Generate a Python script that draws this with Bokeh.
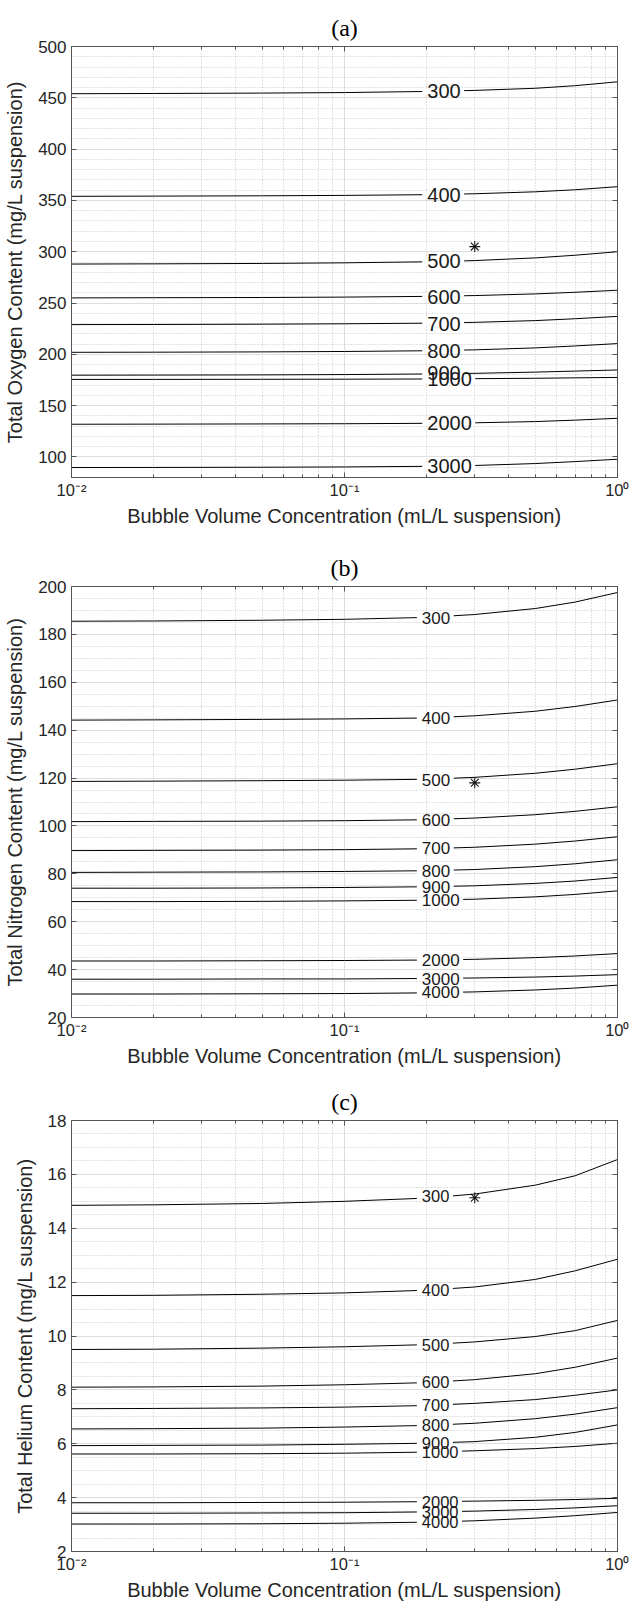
import numpy as np
from bokeh.plotting import figure
from bokeh.models import FixedTicker, LogAxis, LinearAxis
from bokeh.layouts import column
from bokeh.embed import file_html
from bokeh.resources import INLINE
from bokeh.core.properties import value

# ---------------- data ----------------
bubble_conc = [0.01, 0.02, 0.05, 0.1, 0.2, 0.3, 0.5, 0.7, 1.0]
x_ticks = [0.01, 0.1, 1.0]
x_tick_labels = ["10\u207b\u00b2", "10\u207b\u00b9", "10\u2070"]
x_label = "Bubble Volume Concentration (mL/L suspension)"

# (a) oxygen
oxy_levels = ["300", "400", "500", "600", "700", "800", "900", "1000", "2000", "3000"]
oxy_curves = [
    [454.0, 454.2, 454.6, 455.1, 456.2, 457.2, 459.3, 461.8, 465.6],
    [354.0, 354.2, 354.5, 354.9, 355.6, 356.5, 358.4, 360.4, 363.4],
    [288.0, 288.2, 288.6, 289.2, 290.2, 291.4, 294.0, 296.6, 300.0],
    [255.0, 255.2, 255.4, 255.8, 256.5, 257.3, 258.9, 260.5, 262.5],
    [229.0, 229.1, 229.4, 229.8, 230.4, 231.2, 232.9, 234.7, 237.0],
    [202.0, 202.1, 202.4, 202.8, 203.5, 204.4, 206.3, 208.2, 210.5],
    [179.7, 179.8, 180.0, 180.3, 180.9, 181.5, 182.7, 183.7, 184.8],
    [175.6, 175.6, 175.7, 175.8, 176.0, 176.3, 176.7, 177.1, 177.5],
    [131.9, 132.0, 132.2, 132.4, 132.8, 133.3, 134.5, 135.9, 137.7],
    [89.7, 89.8, 90.0, 90.3, 90.9, 91.7, 93.6, 95.5, 97.8],
]
oxy_label_y = [456.5, 355.5, 290.5, 256.3, 230.0, 203.4, 182.3, 175.5, 133.0, 91.5]
oxy_star_x = [0.3]
oxy_star_y = [305.0]
oxy_yticks = [100, 150, 200, 250, 300, 350, 400, 450, 500]

# (b) nitrogen
nit_levels = ["300", "400", "500", "600", "700", "800", "900", "1000", "2000", "3000", "4000"]
nit_curves = [
    [185.5, 185.6, 185.9, 186.3, 187.1, 188.3, 190.8, 193.5, 197.5],
    [144.2, 144.3, 144.5, 144.7, 145.1, 146.0, 147.9, 149.9, 152.6],
    [118.6, 118.7, 118.9, 119.1, 119.5, 120.3, 122.0, 123.7, 126.0],
    [101.8, 101.9, 102.0, 102.2, 102.6, 103.3, 104.7, 106.1, 108.0],
    [89.7, 89.8, 89.9, 90.1, 90.5, 91.1, 92.4, 93.7, 95.5],
    [80.6, 80.7, 80.8, 81.0, 81.3, 81.8, 83.0, 84.2, 85.9],
    [74.0, 74.0, 74.1, 74.3, 74.6, 75.0, 76.0, 77.0, 78.5],
    [68.4, 68.4, 68.5, 68.7, 69.0, 69.4, 70.4, 71.4, 72.9],
    [43.6, 43.6, 43.7, 43.8, 44.0, 44.3, 45.0, 45.7, 46.7],
    [36.0, 36.0, 36.1, 36.1, 36.3, 36.5, 36.9, 37.3, 37.9],
    [29.8, 29.8, 29.9, 30.0, 30.3, 30.7, 31.5, 32.3, 33.5],
]
nit_label_y = [186.9, 144.9, 119.3, 102.4, 90.6, 81.2, 74.4, 68.9, 43.9, 36.25, 30.6]
nit_star_x = [0.3]
nit_star_y = [118.0]
nit_yticks = [20, 40, 60, 80, 100, 120, 140, 160, 180, 200]

# (c) helium
hel_levels = ["300", "400", "500", "600", "700", "800", "900", "1000", "2000", "3000", "4000"]
hel_curves = [
    [14.85, 14.87, 14.92, 15.0, 15.12, 15.27, 15.6, 15.95, 16.55],
    [11.5, 11.51, 11.55, 11.6, 11.7, 11.82, 12.1, 12.42, 12.85],
    [9.5, 9.51, 9.55, 9.6, 9.68, 9.78, 9.98, 10.2, 10.58],
    [8.1, 8.11, 8.14, 8.19, 8.27, 8.38, 8.6, 8.84, 9.18],
    [7.3, 7.31, 7.33, 7.36, 7.42, 7.5, 7.64, 7.8, 8.0],
    [6.55, 6.56, 6.58, 6.62, 6.68, 6.76, 6.93, 7.1, 7.34],
    [5.93, 5.94, 5.95, 5.98, 6.02, 6.08, 6.24, 6.42, 6.7],
    [5.62, 5.62, 5.63, 5.65, 5.69, 5.74, 5.82, 5.9, 6.02],
    [3.81, 3.81, 3.82, 3.83, 3.85, 3.87, 3.9, 3.93, 3.975],
    [3.42, 3.42, 3.43, 3.44, 3.47, 3.5, 3.56, 3.62, 3.70],
    [3.02, 3.02, 3.03, 3.05, 3.09, 3.14, 3.24, 3.33, 3.45],
]
hel_label_y = [15.18, 11.72, 9.67, 8.28, 7.44, 6.70, 6.02, 5.71, 3.85, 3.47, 3.10]
hel_star_x = [0.3]
hel_star_y = [15.13]
hel_yticks = [2, 4, 6, 8, 10, 12, 14, 16, 18]

# ---------------- style / layout ----------------
FW, FH = 546, 431
AX = "#555555"
TXT = "#262626"
SANS = "Liberation Sans"
x_minor = [m * d for d in (0.01, 0.1) for m in range(2, 10)]


def style_axis(ax, is_x, show_labels=True):
    ax.axis_line_color = AX
    ax.axis_line_width = 1
    ax.major_tick_line_color = AX
    ax.minor_tick_line_color = AX
    ax.major_tick_in = 5
    ax.major_tick_out = 0
    ax.minor_tick_in = 3 if is_x else 0
    ax.minor_tick_out = 0
    ax.major_label_text_font = SANS
    ax.major_label_text_color = TXT
    if show_labels:
        ax.major_label_text_font_size = "16.5px" if is_x else "17px"
        ax.major_label_standoff = 3 if is_x else 5
    else:
        ax.major_label_text_font_size = "2px"
        ax.major_label_text_alpha = 0
        ax.major_label_standoff = 0
    ax.axis_label_text_font = SANS
    ax.axis_label_text_font_style = "normal"
    ax.axis_label_text_font_size = "20px"
    ax.axis_label_text_color = TXT
    ax.axis_label_standoff = 3 if is_x else 9


def panel(title, ylabel, yr, yticks, yminor_step, levels, curves, label_y,
          label_x, label_px, star_x, star_y, bottom):
    p = figure(x_axis_type="log", x_range=(0.01, 1.0), y_range=yr,
               frame_width=FW, frame_height=FH,
               min_border_left=71, min_border_right=12,
               min_border_top=46, min_border_bottom=bottom,
               output_backend="svg", toolbar_location=None, title=title)
    p.background_fill_color = "white"
    p.border_fill_color = "white"
    p.outline_line_color = AX
    p.outline_line_width = 1

    xt = FixedTicker(ticks=x_ticks, minor_ticks=x_minor)
    yminor = [float(v) for v in np.arange(yr[0], yr[1] + 1e-9, yminor_step)]
    yt = FixedTicker(ticks=yticks, minor_ticks=yminor)
    p.xaxis.ticker = xt
    p.yaxis.ticker = yt
    p.xgrid.ticker = xt
    p.ygrid.ticker = yt
    p.xaxis.major_label_overrides = dict(zip(x_ticks, x_tick_labels))
    p.xaxis.axis_label = x_label
    p.yaxis.axis_label = ylabel
    for ax in p.xaxis:
        style_axis(ax, True)
    for ax in p.yaxis:
        style_axis(ax, False)

    for g in (p.xgrid, p.ygrid):
        g.grid_line_color = "#dedede"
        g.grid_line_width = 1
        g.minor_grid_line_color = "#c4c4c4"
        g.minor_grid_line_dash = "1 2"
        g.minor_grid_line_width = 1

    top = LogAxis(ticker=xt)
    style_axis(top, True, show_labels=False)
    p.add_layout(top, "above")
    right = LinearAxis(ticker=yt)
    style_axis(right, False, show_labels=False)
    p.add_layout(right, "right")

    p.title.text_font = "Liberation Serif"
    p.title.text_font_style = "normal"
    p.title.text_font_size = "24px"
    p.title.text_color = "black"
    p.title.align = "center"
    p.title.standoff = 11

    for ys in curves:
        p.line(bubble_conc, ys, line_color="black", line_width=1)

    # gaps in the contour lines behind the labels
    ppd = FW / 2.0
    widths = [len(t) * 0.556 * label_px for t in levels]
    rect_x = [label_x * 10 ** (((w - 1.5) / 2.0) / ppd) for w in widths]
    p.rect(x=rect_x, y=label_y, width=[w + 8.5 for w in widths], height=6,
           width_units="screen", height_units="screen",
           fill_color="white", line_color=None)
    p.text(x=[label_x] * len(levels), y=label_y, text=levels,
           text_align="left", text_baseline="middle",
           text_font=value(SANS), text_font_size=value(f"{label_px}px"),
           text_color="#1a1a1a")

    p.scatter(star_x, star_y, marker="asterisk", size=11,
              line_color="#1a1a1a", line_width=1.1)
    return p


pa = panel("(a)", "Total Oxygen Content (mg/L suspension)", (80, 500), oxy_yticks, 10,
           oxy_levels, oxy_curves, oxy_label_y, 0.201, 20, oxy_star_x, oxy_star_y, 63)
pb = panel("(b)", "Total Nitrogen Content (mg/L suspension)", (20, 200), nit_yticks, 5,
           nit_levels, nit_curves, nit_label_y, 0.192, 17, nit_star_x, nit_star_y, 57)
pc = panel("(c)", "Total Helium Content (mg/L suspension)", (2, 18), hel_yticks, 0.5,
           hel_levels, hel_curves, hel_label_y, 0.192, 16.5, hel_star_x, hel_star_y, 48)

layout = column(pa, pb, pc)
open("out.html", "w").write(file_html(layout, INLINE, title="Bubble volume contours"))
